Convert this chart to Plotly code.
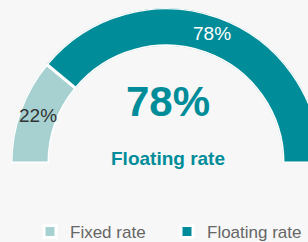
import plotly.graph_objects as go

categories = ["Fixed rate", "Floating rate"]
values = [22, 78]
colors = ["#A7D1D0", "#008C99"]
label_colors = ["#333333", "#FFFFFF"]
center_value = 78
center_label = "Floating rate"

W, H = 330, 242
FONT = "Liberation Sans Narrow, Arial Narrow, Liberation Sans, Arial, sans-serif"

total = sum(values)
fig = go.Figure()
start = 180.0
mids = []
for cat, v, c in zip(categories, values, colors):
    width = 180.0 * v / total
    center = start - width / 2
    mids.append(center)
    fig.add_trace(go.Barpolar(
        r=[1], theta=[center], width=[width], name=cat,
        marker=dict(color=c, line=dict(color="white", width=3)),
        hoverinfo="skip",
    ))
    start -= width

fig.add_trace(go.Scatterpolar(
    r=[0.5] * len(values), theta=mids, mode="text",
    text=[f"{v}%" for v in values],
    textfont=dict(family=FONT, size=19, color=label_colors),
    showlegend=False, hoverinfo="skip",
))

fig.update_layout(
    width=W, height=H,
    margin=dict(l=0, r=0, t=0, b=0, autoexpand=False),
    paper_bgcolor="#F7F7F7", plot_bgcolor="#F7F7F7",
    polar=dict(
        domain=dict(x=[11 / W, 321 / W], y=[(H - 163) / H, (H - 8) / H]),
        sector=[0, 180], hole=0.755, bgcolor="rgba(0,0,0,0)",
        radialaxis=dict(range=[0, 1], visible=False),
        angularaxis=dict(visible=False, direction="counterclockwise", rotation=0),
        barmode="overlay",
    ),
    showlegend=True,
    legend=dict(
        orientation="h", x=30 / W, xanchor="left", y=10 / H, yanchor="middle",
        font=dict(family=FONT, size=17, color="#666666"),
        entrywidth=92, entrywidthmode="pixels", bgcolor="rgba(0,0,0,0)",
    ),
    annotations=[
        dict(x=168 / W, y=(H - 101) / H, xref="paper", yref="paper",
             text=f"<b>{center_value}%</b>", showarrow=False,
             font=dict(family=FONT, size=42, color="#008C99")),
        dict(x=168 / W, y=(H - 159) / H, xref="paper", yref="paper",
             text=f"<b>{center_label}</b>", showarrow=False,
             font=dict(family=FONT, size=19, color="#008C99")),
    ],
)

fig.write_html(
    "out.html",
    config={"displayModeBar": False},
    post_script="document.body.style.margin='0';document.body.style.overflow='hidden';",
)
